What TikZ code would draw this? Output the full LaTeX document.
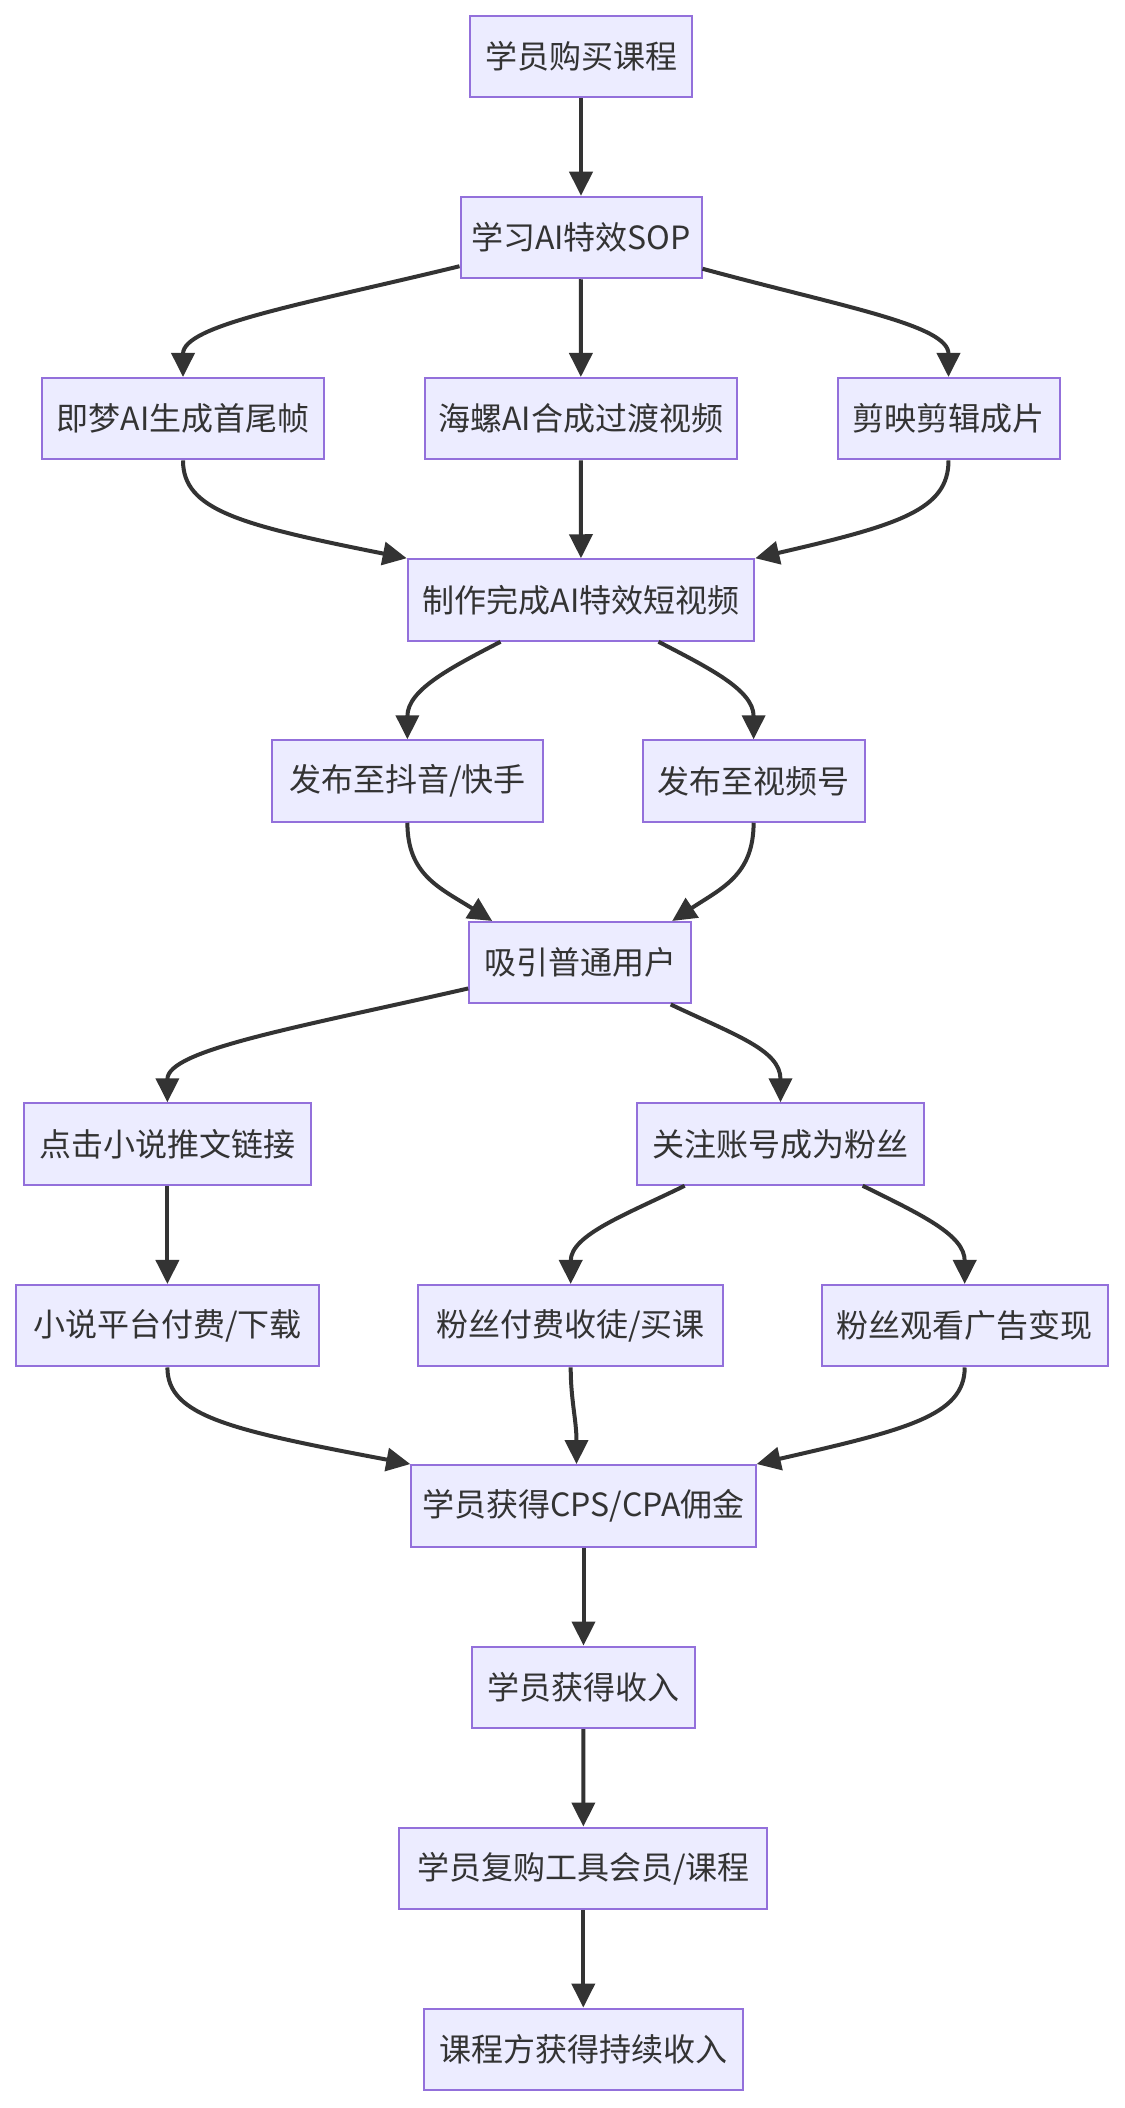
\documentclass[tikz,border=0pt]{standalone}
\usepackage{fontspec}
\setmainfont{Noto Sans CJK SC}
\usetikzlibrary{arrows.meta}
\definecolor{boxfill}{HTML}{ECECFF}
\definecolor{boxline}{HTML}{9370DB}
\definecolor{ink}{HTML}{333333}
\tikzset{
  box/.style={draw=boxline, fill=boxfill, line width=1pt, text=ink,
    minimum height=40.75pt, inner xsep=4pt, font=\fontsize{16pt}{19pt}\selectfont},
  arr/.style={draw=ink, line width=2pt, -{Triangle[length=12pt,width=11.5pt]}},
}
\begin{document}
\begin{tikzpicture}[x=0.5pt, y=-0.5pt]
  \useasboundingbox (0,0) rectangle (1124,2108);
  % nodes
  \node[box, minimum width=111.3pt] (buy) at (581,56.5) {学员购买课程};
  \node[box, minimum width=120.5pt] (sop) at (581,237.5) {学习AI特效SOP};
  \node[box, minimum width=141.3pt] (jimeng) at (183,418.7) {即梦AI生成首尾帧};
  \node[box, minimum width=156pt] (hailuo) at (580.8,418.7) {海螺AI合成过渡视频};
  \node[box, minimum width=111pt] (jianying) at (948.5,418.7) {剪映剪辑成片};
  \node[box, minimum width=173.3pt] (video) at (581,600) {制作完成AI特效短视频};
  \node[box, minimum width=135.8pt] (douyin) at (407.4,781) {发布至抖音/快手};
  \node[box, minimum width=110.9pt] (shipin) at (753.6,781) {发布至视频号};
  \node[box, minimum width=111pt] (user) at (580.2,962.7) {吸引普通用户};
  \node[box, minimum width=143.2pt] (click) at (167.4,1144) {点击小说推文链接};
  \node[box, minimum width=143.2pt] (follow) at (780.5,1144) {关注账号成为粉丝};
  \node[box, minimum width=151.3pt] (novel) at (167.4,1325.7) {小说平台付费/下载};
  \node[box, minimum width=152.5pt] (tutor) at (570.7,1325.7) {粉丝付费收徒/买课};
  \node[box, minimum width=143.2pt] (ads) at (964.7,1325.7) {粉丝观看广告变现};
  \node[box, minimum width=172.2pt] (cps) at (583.5,1505.8) {学员获得CPS/CPA佣金};
  \node[box, minimum width=111.5pt] (income) at (583.5,1687.3) {学员获得收入};
  \node[box, minimum width=184pt] (rebuy) at (583.3,1868.3) {学员复购工具会员/课程};
  \node[box, minimum width=159.4pt] (course) at (583.3,2049.3) {课程方获得持续收入};
  % straight links
  \draw[arr] (buy) -- (sop);
  \draw[arr] (sop) -- (hailuo);
  \draw[arr] (hailuo) -- (video);
  \draw[arr] (click) -- (novel);
  \draw[arr] (cps) -- (income);
  \draw[arr] (income) -- (rebuy);
  \draw[arr] (rebuy) -- (course);
  % curved links
  \draw[arr] ([yshift=6.5pt]sop.south west) .. controls (300,305) and (183,325) .. (jimeng.north);
  \draw[arr] ([yshift=5.25pt]sop.south east) .. controls (843.5,307) and (948.5,325) .. (jianying.north);
  \draw[arr] (jimeng.south) .. controls (183,510) and (240,525) .. (video.north west);
  \draw[arr] (jianying.south) .. controls (948.5,510) and (899,525) .. (video.north east);
  \draw[arr] ([xshift=46.9pt]video.south west) .. controls (450,668) and (407.4,690) .. (douyin.north);
  \draw[arr] ([xshift=-48.4pt]video.south east) .. controls (709,668) and (753.6,690) .. (shipin.north);
  \draw[arr] (douyin.south) .. controls (407.4,875) and (440,888) .. ([xshift=12pt]user.north west);
  \draw[arr] (shipin.south) .. controls (753.6,875) and (722,888) .. ([xshift=-10pt]user.north east);
  \draw[arr] ([yshift=8pt]user.south west) .. controls (295,1028) and (167.4,1050) .. (click.north);
  \draw[arr] ([xshift=-10.75pt]user.south east) .. controls (735,1035) and (780.5,1050) .. (follow.north);
  \draw[arr] ([xshift=24.2pt]follow.south west) .. controls (625,1215) and (570.7,1235) .. (tutor.north);
  \draw[arr] ([xshift=-31pt]follow.south east) .. controls (922,1215) and (964.7,1235) .. (ads.north);
  \draw[arr] (novel.south) .. controls (167.4,1416) and (230,1430) .. (cps.north west);
  \draw[arr] (tutor.south) .. controls (570.7,1400) and (576.5,1420) .. ([xshift=-3.5pt]cps.north);
  \draw[arr] (ads.south) .. controls (964.7,1416) and (905,1430) .. (cps.north east);
\end{tikzpicture}
\end{document}
